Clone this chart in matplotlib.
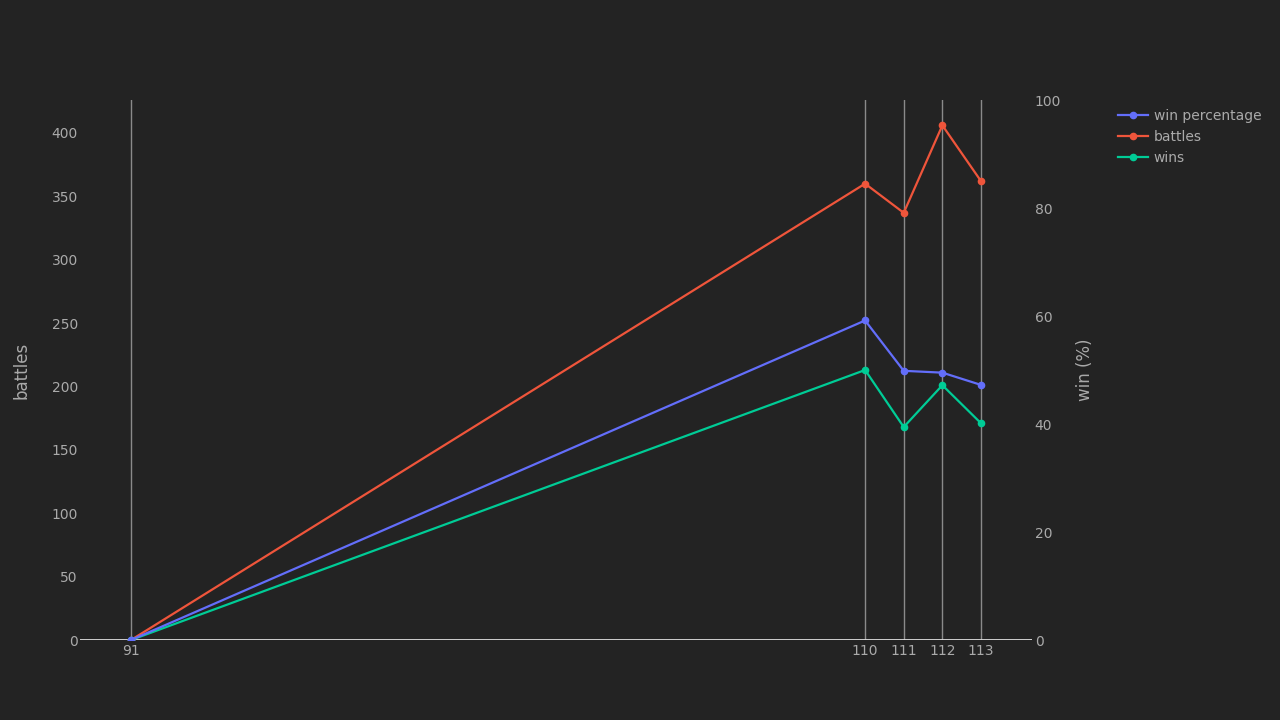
import matplotlib.pyplot as plt
from matplotlib.lines import Line2D

# data
levels = [91, 110, 111, 112, 113]
battles = [0, 360, 337, 406, 362]
wins = [0, 213, 168, 201, 171]
win_pct = [0, 59.17, 49.85, 49.51, 47.24]

BG = '#232323'
TXT = '#aaaaaa'
GRID = '#8a8a8a'

fig = plt.figure(figsize=(12.8, 7.2), dpi=100, facecolor=BG)
ax = fig.add_axes([0.0625, 0.1111, 0.74375, 0.75])
ax.set_facecolor(BG)
ax2 = ax.twinx()

ax.plot(levels, battles, '-o', color='#EF553B', lw=1.6, ms=4.5, zorder=3)
ax.plot(levels, wins, '-o', color='#00cc96', lw=1.6, ms=4.5, zorder=3)
ax2.plot(levels, win_pct, '-o', color='#636efa', lw=1.6, ms=4.5, zorder=3)

ax.set_xlim(89.68, 114.32)
ax.set_ylim(0, 426)
ax2.set_ylim(0, 100)
ax.set_xticks(levels)
ax.set_yticks(range(0, 401, 50))
ax2.set_yticks(range(0, 101, 20))

ax.grid(axis='x', color=GRID, lw=1, zorder=0)
for a in (ax, ax2):
    for s in a.spines.values():
        s.set_visible(False)
    a.tick_params(colors=TXT, labelsize=10, length=0)
ax.tick_params(axis='y', pad=1.5)
ax.tick_params(axis='x', pad=3)
ax2.tick_params(axis='y', pad=2)
ax.axhline(0, color='#dddddd', lw=1.3, zorder=2)

ax.set_ylabel('battles', color=TXT, fontsize=12, labelpad=15)
ax2.set_ylabel('win (%)', color=TXT, fontsize=12, labelpad=11)

handles = [
    Line2D([], [], color='#636efa', marker='o', lw=1.6, ms=4.5),
    Line2D([], [], color='#EF553B', marker='o', lw=1.6, ms=4.5),
    Line2D([], [], color='#00cc96', marker='o', lw=1.6, ms=4.5),
]
leg = fig.legend(handles, ['win percentage', 'battles', 'wins'],
                 loc='upper left', bbox_to_anchor=(0.8635, 0.866),
                 frameon=False, fontsize=10, labelcolor=TXT,
                 handlelength=2.2, handletextpad=0.4, labelspacing=0.5)

fig.savefig('out.png', dpi=100, facecolor=BG)
